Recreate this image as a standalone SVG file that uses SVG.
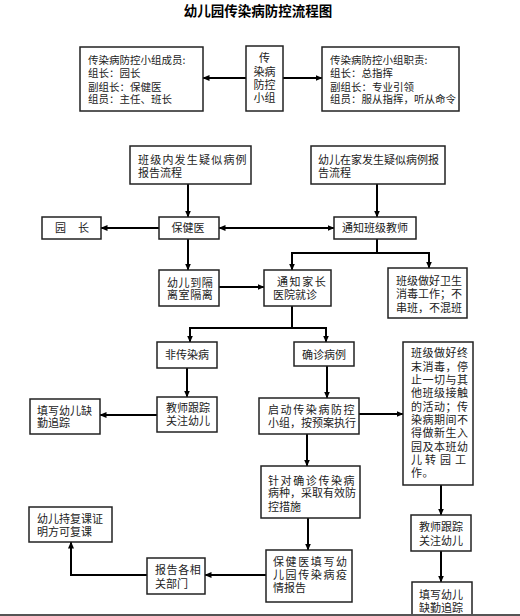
<svg xmlns="http://www.w3.org/2000/svg" width="520" height="616" viewBox="0 0 520 616">
<defs>
<marker id="ah" markerWidth="7" markerHeight="6" refX="6.5" refY="3" orient="auto" markerUnits="userSpaceOnUse"><path d="M0,0 L7,3 L0,6 Z" fill="#000"/></marker>
<marker id="ahs" markerWidth="7" markerHeight="6" refX="0.5" refY="3" orient="auto" markerUnits="userSpaceOnUse"><path d="M7,0 L0,3 L7,6 Z" fill="#000"/></marker>
<style>
.b{fill:#fff;stroke:#222;stroke-width:1.5}
.t{font-family:"Noto Sans CJK SC","Liberation Sans",sans-serif;font-size:11px;fill:#222}
.n{font-size:10.5px}
.s{letter-spacing:1.2px}
.w{letter-spacing:1.6px}
.c{stroke:#000;stroke-width:2;fill:none}
.a{marker-end:url(#ah)}
</style>
</defs>
<rect width="520" height="616" fill="#fff"/>
<text x="258" y="16" text-anchor="middle" style="font-family:'Noto Sans CJK SC','Liberation Sans',sans-serif;font-size:13.5px;font-weight:bold;fill:#000">幼儿园传染病防控流程图</text>

<g id="connectors">
<path class="c a" d="M246,78 H203"/>
<path class="c a" d="M283,78 H322"/>
<path class="c a" d="M188,184 V217"/>
<path class="c a" d="M377,184 V217"/>
<path class="c a" d="M159,228 H101"/>
<path class="c a" d="M219,228 H334" style="marker-start:url(#ahs)"/>
<path class="c a" d="M188,239 V270"/>
<path class="c a" d="M219,287 H264"/>
<path class="c a" d="M377,239 V253 H292 V270"/>
<path class="c a" d="M377,253 H429 V268"/>
<path class="c a" d="M292,306 V328 H190 V342"/>
<path class="c a" d="M292,328 H326 V342"/>
<path class="c a" d="M187,368 V397"/>
<path class="c a" d="M157,415 H100"/>
<path class="c a" d="M327,366 V398"/>
<path class="c a" d="M359,414 H403"/>
<path class="c a" d="M307,434 V466"/>
<path class="c a" d="M308,518 V550"/>
<path class="c a" d="M441,485 V515"/>
<path class="c a" d="M441,551 V582"/>
<path class="c a" d="M266,575 H205"/>
<path class="c a" d="M147,575 H71 V542"/>
</g>

<g id="members">
<rect class="b" x="80" y="47" width="123" height="64"/>
<text class="t n"><tspan x="88" y="64">传染病防控小组成员:</tspan><tspan x="88" y="77">组长：园长</tspan><tspan x="88" y="91">副组长：保健医</tspan><tspan x="88" y="103">组员：主任、班长</tspan></text>
</g>
<g id="group">
<rect class="b" x="246" y="46" width="37" height="65"/>
<text class="t" text-anchor="middle"><tspan x="264.5" y="62">传</tspan><tspan x="264.5" y="76">染病</tspan><tspan x="264.5" y="89">防控</tspan><tspan x="264.5" y="102">小组</tspan></text>
</g>
<g id="duties">
<rect class="b" x="322" y="47" width="137" height="64"/>
<text class="t n"><tspan x="330" y="64">传染病防控小组职责:</tspan><tspan x="330" y="77">组长：总指挥</tspan><tspan x="330" y="91">副组长：专业引领</tspan><tspan x="330" y="103">组员：服从指挥，听从命令</tspan></text>
</g>
<g id="inclass">
<rect class="b" x="130" y="146" width="121" height="38"/>
<text class="t"><tspan class="s" x="138" y="164">班级内发生疑似病例</tspan><tspan x="138" y="177">报告流程</tspan></text>
</g>
<g id="athome">
<rect class="b" x="311" y="146" width="134" height="38"/>
<text class="t"><tspan x="318" y="164">幼儿在家发生疑似病例报</tspan><tspan x="318" y="177">告流程</tspan></text>
</g>
<g id="director">
<rect class="b" x="42" y="217" width="59" height="22"/>
<text class="t"><tspan x="55" y="232">园</tspan><tspan x="78" y="232">长</tspan></text>
</g>
<g id="doctor">
<rect class="b" x="159" y="217" width="60" height="22"/>
<text class="t" x="188" y="232" text-anchor="middle">保健医</text>
</g>
<g id="notifyteacher">
<rect class="b" x="334" y="217" width="82" height="22"/>
<text class="t" x="375" y="232" text-anchor="middle">通知班级教师</text>
</g>
<g id="isolate">
<rect class="b" x="159" y="270" width="60" height="36"/>
<text class="t" style="letter-spacing:0.6px"><tspan x="167" y="287">幼儿到隔</tspan><tspan x="167" y="299">离室隔离</tspan></text>
</g>
<g id="notifyparent">
<rect class="b" x="264" y="270" width="67" height="36"/>
<text class="t"><tspan class="w" x="277" y="286">通知家长</tspan><tspan x="273" y="299">医院就诊</tspan></text>
</g>
<g id="hygiene">
<rect class="b" x="388" y="268" width="79" height="50"/>
<text class="t"><tspan x="396" y="285">班级做好卫生</tspan><tspan x="396" y="298">消毒工作；不</tspan><tspan x="396" y="312">串班，不混班</tspan></text>
</g>
<g id="noninfect">
<rect class="b" x="157" y="342" width="60" height="26"/>
<text class="t" x="187" y="359" text-anchor="middle">非传染病</text>
</g>
<g id="teacher1">
<rect class="b" x="157" y="397" width="60" height="35"/>
<text class="t"><tspan x="166" y="412">教师跟踪</tspan><tspan x="166" y="425">关注幼儿</tspan></text>
</g>
<g id="absence1">
<rect class="b" x="30" y="399" width="70" height="35"/>
<text class="t"><tspan x="37" y="415">填写幼儿缺</tspan><tspan x="37" y="427">勤追踪</tspan></text>
</g>
<g id="confirmed">
<rect class="b" x="294" y="342" width="60" height="24"/>
<text class="t" x="324" y="359" text-anchor="middle">确诊病例</text>
</g>
<g id="start">
<rect class="b" x="259" y="398" width="100" height="36"/>
<text class="t"><tspan class="w" x="268" y="414">启动传染病防控</tspan><tspan x="268" y="427">小组，按预案执行</tspan></text>
</g>
<g id="terminal">
<rect class="b" x="403" y="342" width="70" height="143"/>
<text class="t" style="letter-spacing:0.5px"><tspan x="411" y="357">班级做好终</tspan><tspan x="411" y="371">末消毒，停</tspan><tspan x="411" y="384">止一切与其</tspan><tspan x="411" y="397">他班级接触</tspan><tspan x="411" y="411">的活动；传</tspan><tspan x="411" y="424">染病期间不</tspan><tspan x="411" y="437">得做新生入</tspan><tspan x="411" y="451">园及本班幼</tspan><tspan x="411" y="464">儿</tspan><tspan x="425" y="464">转</tspan><tspan x="440" y="464">园</tspan><tspan x="455" y="464">工</tspan><tspan x="411" y="477">作。</tspan></text>
</g>
<g id="measures">
<rect class="b" x="261" y="466" width="99" height="52"/>
<text class="t"><tspan class="w" x="268" y="485">针对确诊传染病</tspan><tspan x="268" y="497">病种，采取有效防</tspan><tspan x="268" y="511">控措施</tspan></text>
</g>
<g id="report">
<rect class="b" x="266" y="550" width="86" height="52"/>
<text class="t"><tspan class="w" x="273" y="566">保健医填写幼</tspan><tspan class="w" x="273" y="579">儿园传染病疫</tspan><tspan x="273" y="592">情报告</tspan></text>
</g>
<g id="departments">
<rect class="b" x="147" y="558" width="58" height="36"/>
<text class="t"><tspan x="155" y="574" style="letter-spacing:0.6px">报告各相</tspan><tspan x="155" y="588">关部门</tspan></text>
</g>
<g id="resume">
<rect class="b" x="29" y="507" width="83" height="35"/>
<text class="t"><tspan x="37" y="523">幼儿持复课证</tspan><tspan x="37" y="536">明方可复课</tspan></text>
</g>
<g id="teacher2">
<rect class="b" x="411" y="515" width="60" height="36"/>
<text class="t"><tspan x="419" y="531">教师跟踪</tspan><tspan x="419" y="545">关注幼儿</tspan></text>
</g>
<g id="absence2">
<rect class="b" x="412" y="582" width="60" height="40"/>
<text class="t"><tspan x="419" y="599">填写幼儿</tspan><tspan x="419" y="612">缺勤追踪</tspan></text>
</g>
<line x1="0" y1="615" x2="520" y2="615" stroke="#555" stroke-width="2"/>
</svg>
